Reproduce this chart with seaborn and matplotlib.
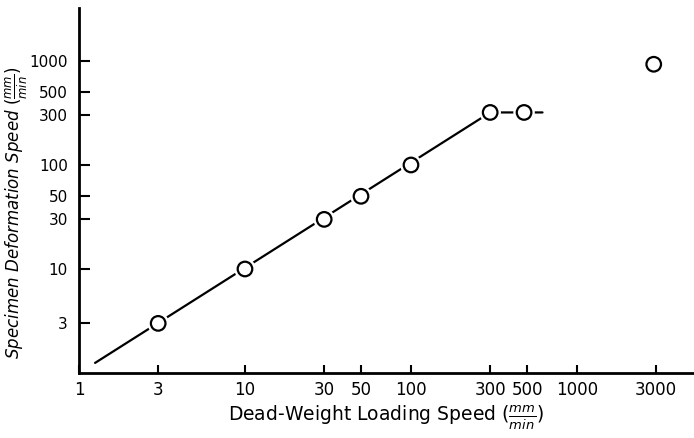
import matplotlib
matplotlib.use("Agg")
import matplotlib.pyplot as plt
import seaborn as sns
import pandas as pd
import matplotlib.patheffects as pe
from matplotlib.ticker import FixedLocator, NullLocator

# Data
load_speed = [3, 10, 30, 50, 100, 300, 480, 2900]
deform_speed = [3, 10, 30, 50, 100, 320, 320, 930]
fit_x = [1.25, 300, 620]
fit_y = [1.25, 320, 320]
x_ticks = [1, 3, 10, 30, 50, 100, 300, 500, 1000, 3000]
x_tick_labels = ["1", "3", "10", "30", "50", "100", "300", "500", "1000", "3000"]
y_ticks = [3, 10, 30, 50, 100, 300, 500, 1000]
y_tick_labels = ["3", "10", "30", "50", "100", "300", "500", "1000"]

pts = pd.DataFrame({"x": load_speed, "y": deform_speed})
fit = pd.DataFrame({"x": fit_x, "y": fit_y})

sns.set_theme(style="white")
plt.rcParams['font.family'] = ['DejaVu Sans']

fig = plt.figure(figsize=(6.94, 4.38), dpi=100)
ax = fig.add_axes([0.1138, 0.1484, 0.8862, 0.8333])

sns.lineplot(data=fit, x="x", y="y", ax=ax, color="black", lw=1.6, sort=False)
sns.scatterplot(data=pts, x="x", y="y", ax=ax, s=110, facecolor="white",
                edgecolor="black", linewidth=1.6, zorder=5,
                path_effects=[pe.Stroke(linewidth=5, foreground="white"), pe.Normal()])

ax.set_xscale("log")
ax.set_yscale("log")
ax.set_xlim(1, 5070)
ax.set_ylim(1, 3230)

ax.xaxis.set_major_locator(FixedLocator(x_ticks))
ax.set_xticklabels(x_tick_labels)
ax.yaxis.set_major_locator(FixedLocator(y_ticks))
ax.set_yticklabels(y_tick_labels)
ax.xaxis.set_minor_locator(NullLocator())
ax.yaxis.set_minor_locator(NullLocator())

ax.tick_params(axis="x", direction="in", length=6, width=1.5, labelsize=12, pad=6,
               bottom=True, colors="black")
ax.tick_params(axis="y", direction="in", length=8, width=1.5, labelsize=11, pad=8,
               left=True, colors="black")

for s in ["top", "right"]:
    ax.spines[s].set_visible(False)
for s in ["left", "bottom"]:
    ax.spines[s].set_color("black")
    ax.spines[s].set_linewidth(2)

ax.set_xlabel(r"Dead-Weight Loading Speed $(\frac{mm}{min})$", fontsize=13.5,
              color="black")
ax.xaxis.set_label_coords(0.5, -0.085)
ax.set_ylabel(r"Specimen Deformation Speed $(\frac{mm}{min})$", fontsize=12,
              color="black", fontstyle="italic")
ax.yaxis.set_label_coords(-0.08, 0.44)

fig.savefig("out.png", dpi=100)
